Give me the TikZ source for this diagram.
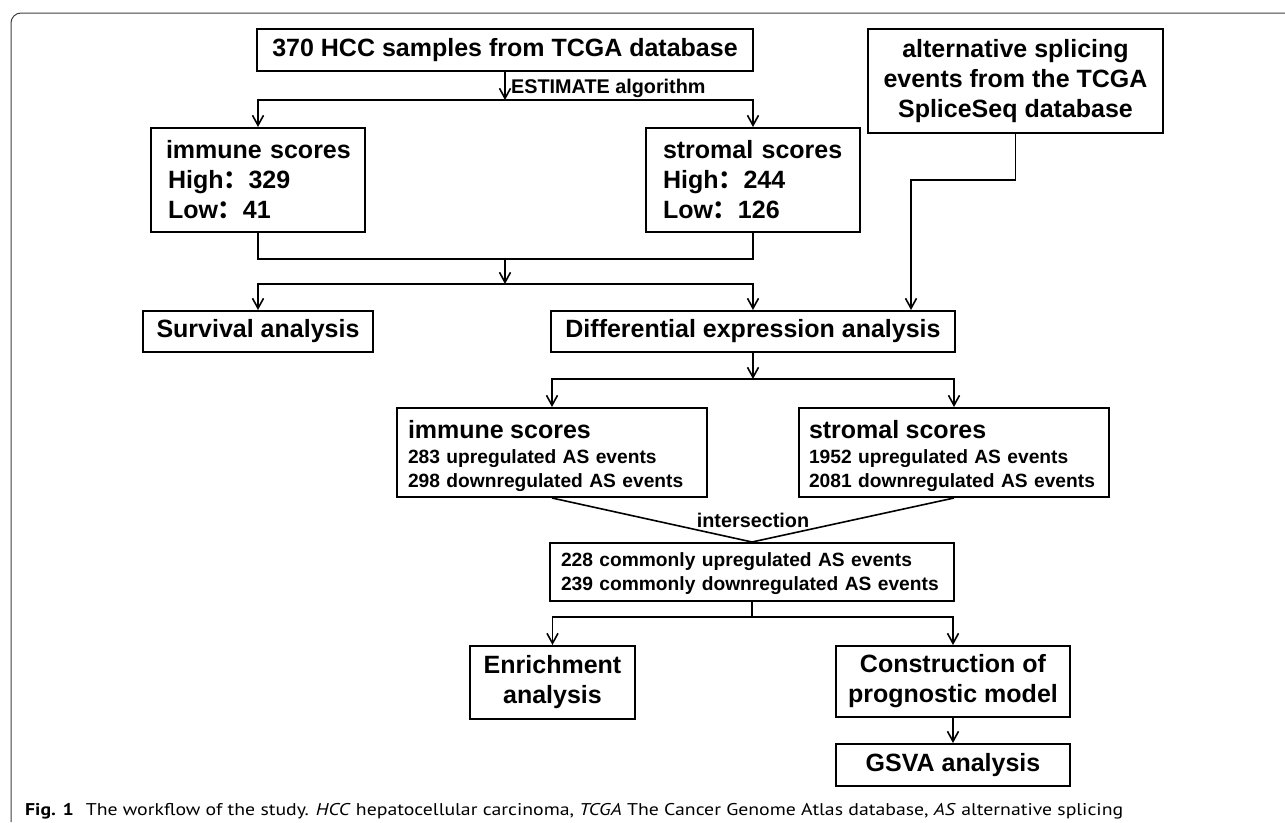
\documentclass[tikz,border=0pt]{standalone}
\usepackage{fontspec}
\setmainfont{Liberation Sans}
\newfontfamily\capfont{PT Sans}
\newfontfamily\cjk{Noto Sans CJK SC}
\usetikzlibrary{arrows.meta}
\newcommand{\fwc}{{\cjk：}}
\begin{document}
\begin{tikzpicture}[x=1pt,y=-1pt,
  box/.style={draw, line width=2pt, inner sep=0pt, align=center,
    font=\bfseries\fontsize{25}{30}\selectfont},
  lbox/.style={box, align=left},
  sbox/.style={draw, line width=2pt, inner ysep=0pt, align=left,
    font=\bfseries\fontsize{19.2}{23.5}\selectfont},
  arr/.style={-{Straight Barb[length=10pt,width=11pt,line width=1.6pt]}, line width=1.6pt},
  ln/.style={line width=1.6pt},
  lbl/.style={font=\bfseries\fontsize{19.8}{23}\selectfont, inner sep=0pt}
]
\useasboundingbox (0,0) rectangle (1285,822);
\fill[white] (0,0) rectangle (1285,822);
% outer frame
\draw[line width=1pt, black!75, rounded corners=10pt] (11,822) -- (11,13) -- (1285,13);

% nodes
\node[box, minimum width=496pt, minimum height=42pt] (b1) at (505,50) {370 HCC samples from TCGA database};
\node[lbox, minimum height=104pt, text width=184pt, inner xsep=15pt] (imm1) at (258,180)
  {\mbox{immune scores}\\\mbox{\hspace{2pt}High\fwc 329}\\\mbox{\hspace{2pt}Low\fwc 41}};
\node[lbox, minimum height=104pt, text width=180pt, inner xsep=17pt] (str1) at (753,180)
  {\mbox{stromal scores}\\\mbox{High\fwc 244}\\\mbox{Low\fwc 126}};
\node[box, minimum width=295pt, minimum height=104pt] (as) at (1015.5,81)
  {alternative splicing\\events from the TCGA\\SpliceSeq database};
\node[box, minimum width=230pt, minimum height=41pt] (surv) at (258,331.5) {Survival analysis};
\node[box, minimum width=404pt, minimum height=41pt] (diff) at (753,331.5) {Differential expression analysis};
\node[sbox, minimum height=89pt, text width=288pt, inner xsep=11pt] (imm2) at (552,452.5)
  {\mbox{\rule{0pt}{25pt}\fontsize{25}{28}\selectfont immune scores}\\[1.5pt]\mbox{283 upregulated AS events}\\\mbox{298 downregulated AS events}};
\node[sbox, minimum height=89pt, text width=290pt, inner xsep=10pt] (str2) at (954,452.5)
  {\mbox{\rule{0pt}{25pt}\fontsize{25}{28}\selectfont stromal scores}\\[1.5pt]\mbox{1952 upregulated AS events}\\\mbox{2081 downregulated AS events}};
\node[sbox, minimum height=58pt, text width=382pt, inner xsep=11pt] (com) at (752,572)
  {\mbox{\rule{0pt}{17pt}228 commonly upregulated AS events}\\\mbox{239 commonly downregulated AS events}};
\node[box, minimum width=165pt, minimum height=73pt] (enr) at (552.5,682.5) {Enrichment\\analysis};
\node[box, minimum width=234pt, minimum height=71pt] (con) at (953,681.5) {Construction of\\prognostic model};
\node[box, minimum width=234pt, minimum height=42pt] (gsva) at (953,765) {GSVA analysis};

% junction coordinates
\coordinate (s1) at (505,100);
\coordinate (j1) at (505,259);
\coordinate (j2) at (505,284);
\coordinate (k1) at (911,180);
\coordinate (j3) at (753,379);
\coordinate (j4) at (752,617);

% connectors
\draw[arr] (b1.south) -- (s1);
\node[lbl, anchor=west] (est) at (511,88) {ESTIMATE algorithm};
\draw[arr] (s1) -| (imm1.north);
\draw[arr] (s1) -| (str1.north);
\draw[ln] (imm1.south) |- (j1) -| (str1.south);
\draw[arr] (j1) -- (j2);
\draw[arr] (j2) -| (surv.north);
\draw[arr] (j2) -| (diff.north);
\draw[arr] (as.south) |- (k1) -- (k1 |- diff.north);
\draw[arr] (diff.south) -- (j3);
\draw[arr] (j3) -| (imm2.north);
\draw[arr] (j3) -| (str2.north);
\draw[ln] (imm2.south) -- (com.north) -- (str2.south);
\node[lbl] (isec) at (753,520) {intersection};
\draw[ln] (com.south) -- (j4);
\draw[arr] (j4) -| (enr.north);
\draw[arr] (j4) -| (con.north);
\draw[arr] (con.south) -- (gsva.north);

% caption
\node[anchor=base west, inner sep=0pt] (cap) at (25,815)
  {\resizebox{1098pt}{\height}{\capfont\fontsize{17}{20}\selectfont\textbf{Fig. 1}\hspace{0.6em}The workflow of the study. \textit{HCC} hepatocellular carcinoma, \textit{TCGA} The Cancer Genome Atlas database, \textit{AS} alternative splicing}};
\end{tikzpicture}
\end{document}
